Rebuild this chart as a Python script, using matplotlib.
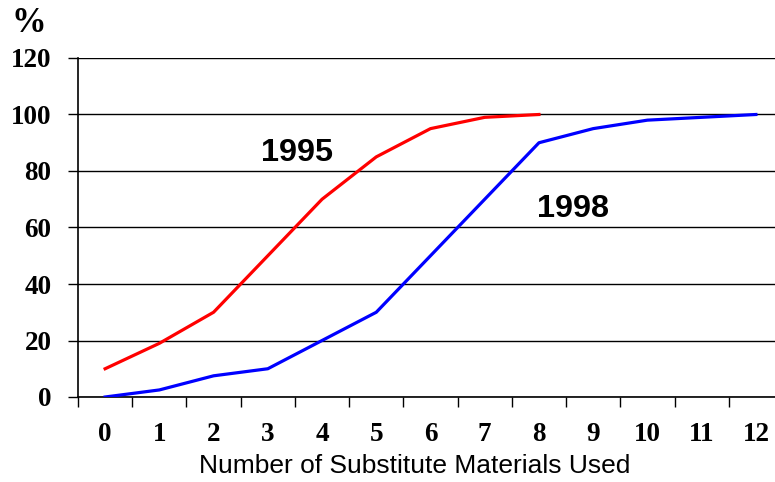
import matplotlib
matplotlib.use("Agg")
import matplotlib.pyplot as plt
import numpy as np

# share of firms (%) using up to N substitute materials
materials = list(range(13))
pct_1995 = [10, 19, 30, 50, 70, 85, 95, 99, 100]
pct_1998 = [0, 2.5, 7.5, 10, 20, 30, 50, 70, 90, 95, 98, 99, 100]
y_ticks = [0, 20, 40, 60, 80, 100, 120]

fig = plt.figure(figsize=(7.75, 4.82), dpi=100)
ax = fig.add_axes([78/775, 85/482, (783-78)/775, (397-58)/482])

ax.plot(materials[:len(pct_1995)], pct_1995, color='#ff0000', lw=2.3, zorder=3)
ax.plot(materials, pct_1998, color='#0000ff', lw=2.3, zorder=3)

ax.set_xlim(-0.5, 12.5)
ax.set_ylim(0, 120)

serif = {'family': 'Liberation Serif', 'weight': 'bold', 'size': 19.5}

ax.set_yticks(y_ticks)
ax.set_yticklabels([str(v) for v in y_ticks], fontdict=serif)
ax.tick_params(axis='y', length=7, width=1, pad=12, color='black')
ax.yaxis.grid(True, color='black', lw=1)
ax.set_axisbelow(True)

# labels sit in the middle of each category, ticks on the boundaries
ax.set_xticks(materials)
ax.set_xticklabels([str(m) for m in materials], fontdict=serif)
ax.set_xticks(np.arange(-0.5, 12.5, 1), minor=True)
ax.tick_params(axis='x', which='major', length=0, pad=18)
ax.tick_params(axis='x', which='minor', length=7, width=1, color='black')

for side in ('top', 'right'):
    ax.spines[side].set_visible(False)
for side in ('left', 'bottom'):
    ax.spines[side].set_linewidth(1.2)

ax.text(3.54, 86.5, '1995', ha='center', va='center',
        family='Liberation Sans', weight='bold', size=23.3)
ax.text(8.63, 66.7, '1998', ha='center', va='center',
        family='Liberation Sans', weight='bold', size=23.3)

fig.text(29/775, 1 - 24/482, '%', ha='center', va='center',
         family='Liberation Serif', weight='bold', size=25)
fig.text(415/775, 1 - 466/482, 'Number of Substitute Materials Used',
         ha='center', va='center', family='Liberation Sans', size=19)

fig.savefig('out.png', dpi=100)
